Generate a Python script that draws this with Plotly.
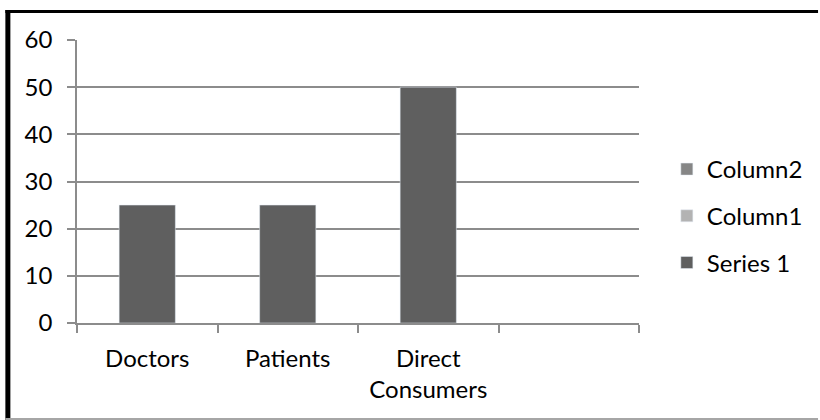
import plotly.graph_objects as go

categories = ["Doctors", "Patients", "Direct<br>Consumers", " "]
series1 = [25, 25, 50, None]
column1 = [None, None, None, None]
column2 = [None, None, None, None]
y_ticks = [0, 10, 20, 30, 40, 50, 60]

FONT = "Lato"
L, R, T, B = 77, 178, 40, 97
W, H = 820, 420
PW, PH = W - L - R, H - T - B

def px(x):
    return (x - L) / PW

def py(y):
    return (H - B - y) / PH

fig = go.Figure()
fig.add_trace(go.Bar(x=categories, y=series1, name="Series 1", marker_color="#5f5f5f",
                     width=0.4, legendrank=3, legendgroup="s1"))
fig.add_trace(go.Bar(x=categories, y=column1, name="Column1", marker_color="#b3b3b3",
                     width=0.4, legendrank=2, legendgroup="c1"))
fig.add_trace(go.Bar(x=categories, y=column2, name="Column2", marker_color="#868686",
                     width=0.4, legendrank=1, legendgroup="c2"))

fig.update_layout(
    width=W, height=H,
    margin=dict(l=L, r=R, t=T, b=B),
    paper_bgcolor="white", plot_bgcolor="white",
    barmode="overlay",
    font=dict(family=FONT, size=24, color="black"),
    showlegend=True,
    legend=dict(x=px(670), y=py(147), xanchor="left", yanchor="top",
                traceorder="grouped", tracegroupgap=12.5,
                itemwidth=30, font=dict(size=24), bgcolor="rgba(0,0,0,0)"),
    xaxis=dict(type="category", range=[-0.5, 3.5], showline=True, linecolor="#8c8c8c",
               linewidth=1.5, ticks="outside", tickson="boundaries", ticklen=8,
               tickcolor="#8c8c8c", tickwidth=1.5, showgrid=False, ticklabelstandoff=13),
    yaxis=dict(range=[0, 60], tickvals=y_ticks, showline=True, linecolor="#8c8c8c",
               linewidth=1.5, ticks="outside", ticklen=8, tickcolor="#8c8c8c",
               tickwidth=1.5, showgrid=True, gridcolor="#8c8c8c", gridwidth=1.5,
               zeroline=False, ticklabelstandoff=10),
    shapes=[
        dict(type="line", xref="paper", yref="paper", x0=px(5), x1=px(822), y0=py(11.5), y1=py(11.5),
             line=dict(color="black", width=3)),
        dict(type="line", xref="paper", yref="paper", x0=px(7.5), x1=px(7.5), y0=py(10), y1=py(422),
             line=dict(color="black", width=5)),
        dict(type="line", xref="paper", yref="paper", x0=px(5), x1=px(822), y0=py(419), y1=py(419),
             line=dict(color="#a6a6a6", width=2)),
    ],
)

fig.write_html("out.html")
